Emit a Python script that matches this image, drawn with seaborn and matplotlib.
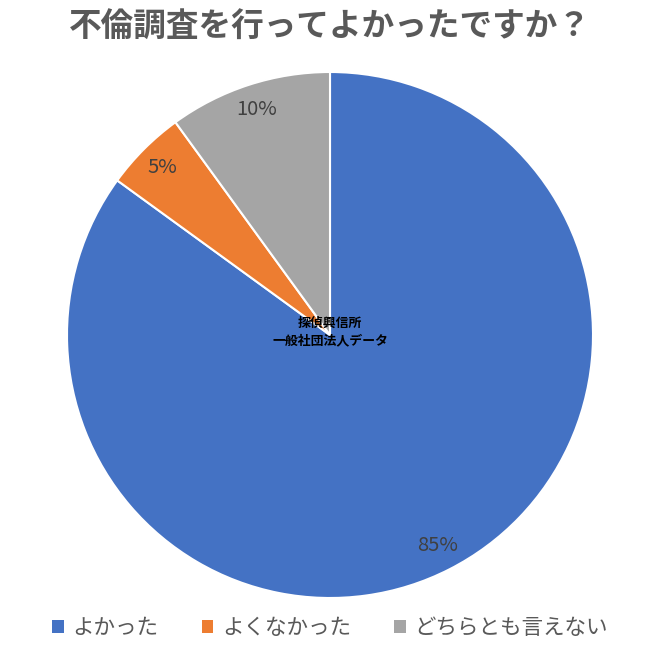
import matplotlib
matplotlib.use("Agg")
import matplotlib.pyplot as plt
import seaborn as sns
from matplotlib.patches import Patch

categories = ["よかった", "よくなかった", "どちらとも言えない"]
values = [85, 5, 10]
pct_labels = ["85%", "5%", "10%"]
colors = ["#4472C4", "#ED7D31", "#A5A5A5"]
title = "不倫調査を行ってよかったですか？"
center_text = "探偵興信所\n一般社団法人データ"

sns.set_theme(style="white")
plt.rcParams["font.family"] = ["Noto Sans CJK JP", "DejaVu Sans"]

fig = plt.figure(figsize=(6.6, 6.6), dpi=100)
fig.patch.set_facecolor("white")
R = 263
cx, cy = 330, 335
ax = fig.add_axes([(cx - R) / 660, (660 - cy - R) / 660, 2 * R / 660, 2 * R / 660])
pal = sns.color_palette(colors)
wedges, texts = ax.pie(values, colors=pal, startangle=90, counterclock=False,
                       labels=pct_labels, labeldistance=0.9,
                       wedgeprops=dict(edgecolor="white", linewidth=1.5),
                       textprops=dict(fontsize=14.5, color="#404040"))
for t in texts:
    t.set_horizontalalignment("center")
    t.set_verticalalignment("center")
ax.set_xlim(-1, 1)
ax.set_ylim(-1, 1)
ax.set_aspect("equal")
ax.axis("off")

ax.text(0, 0.012, center_text, ha="center", va="center", fontsize=9.3,
        fontweight="bold", color="black", linespacing=1.35)

fig.text(0.5, 1 - 27 / 660, title, ha="center", va="center", fontsize=23.5,
         fontweight="bold", color="#595959")

handles = [Patch(facecolor=c, edgecolor="none") for c in colors]
fig.legend(handles, categories, loc="center", bbox_to_anchor=(0.5, 1 - 628 / 660),
           ncol=3, frameon=False, fontsize=15.5, handlelength=0.55, handleheight=0.55,
           handletextpad=0.4, columnspacing=2.0, labelcolor="#595959")

fig.savefig("out.png", dpi=100, facecolor="white")
